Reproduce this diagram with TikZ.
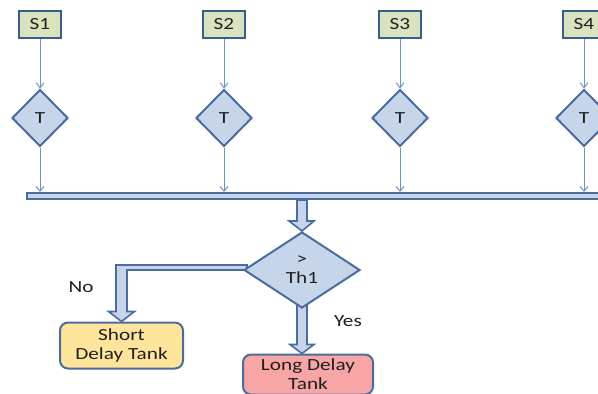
\documentclass[tikz,border=0pt]{standalone}
\usepackage{fontspec}
\setmainfont{Carlito}[FakeStretch=1.25]
\usetikzlibrary{shapes.geometric,arrows.meta,calc,backgrounds}
\definecolor{sfill}{HTML}{D7E4BD}
\definecolor{sborder}{HTML}{3A5E8C}
\definecolor{dfill}{HTML}{C6D5EA}
\definecolor{dborder}{HTML}{4A6D9E}
\definecolor{arrowc}{HTML}{6A93C8}
\definecolor{shortc}{HTML}{FFE59C}
\definecolor{longc}{HTML}{F8A5A5}
\definecolor{txt}{HTML}{1F1F1F}
\begin{document}
\begin{tikzpicture}[x=1pt,y=-1pt,
  font=\fontsize{17}{19}\selectfont, text=txt,
  sbox/.style={draw=sborder, line width=2pt, fill=sfill, minimum width=42pt, minimum height=27pt, inner sep=0pt},
  tdia/.style={diamond, draw=dborder, line width=2pt, fill=dfill, minimum width=56pt, minimum height=57pt, inner sep=0pt},
  decdia/.style={diamond, draw=dborder, line width=2pt, fill=dfill, minimum width=116pt, minimum height=76pt, inner sep=0pt, align=center},
  thinarrow/.style={draw=arrowc, line width=1pt, -{Straight Barb[length=5pt,width=8pt]}},
  block/.style={draw=dborder, line width=1.6pt, fill=dfill, line join=miter},
  barbox/.style={draw=dborder, line width=2pt, fill=dfill, minimum width=575pt, minimum height=6pt, inner sep=0pt},
  tank/.style={rounded corners=8pt, draw=dborder, line width=2pt, align=center, inner sep=0pt},
  lbl/.style={inner sep=0pt}]
\useasboundingbox (0,0) rectangle (598,394);
\clip (0,0) rectangle (598,394);

\node[barbox] (bar) at (314.5,196) {};
\foreach \i/\x in {1/40,2/224,3/400,4/584} {
  \node[sbox] (s\i) at (\x,24.5) {S\i};
  \node[tdia] (t\i) at (\x,118) {T};
  \draw[thinarrow] (s\i) -- (t\i);
  \draw[thinarrow] (t\i) -- (t\i |- bar.north);
}

\node[decdia] (dec) at (302,270) {>\\Th1};
\node[tank, fill=shortc, minimum width=123pt, minimum height=46pt] (short) at (121.5,345.5) {Short\\Delay Tank};
\node[tank, fill=longc, minimum width=130pt, minimum height=40pt] (long) at (308,374.5) {Long Delay\\Tank};

\node[lbl] (no) at (81,287) {No};
\node[lbl] (yes) at (348,321) {Yes};

\begin{scope}[on background layer]
  % down arrow from bar to decision
  \coordinate (dtop) at (bar.south -| dec.north);
  \draw[block] ($(dtop)+(-5,0)$) -- ($(dec.north)+(-5,-10)$) -- ($(dec.north)+(-13,-10)$)
    -- (dec.north) -- ($(dec.north)+(12,-10)$) -- ($(dec.north)+(5,-10)$)
    -- ($(dtop)+(5,0)$) -- cycle;
  % No arrow
  \coordinate (nA) at ($(dec.west)+(4,-5)$);
  \coordinate (nB) at ($(dec.west)+(4,0)$);
  \coordinate (nL) at ($(short.north)+(-5.5,-10)$);
  \coordinate (nR) at ($(short.north)+(5.5,-10)$);
  \draw[block] (nA) -- (nA -| nL) -- (nL) -- ++(-7.5,0) -- (short.north)
    -- ($(nR)+(7.5,0)$) -- (nR) -- (nR |- nB) -- (nB) -- cycle;
  % Yes arrow
  \coordinate (ytip) at (dec.south |- long.north);
  \coordinate (yL) at ($(ytip)+(-5,-9)$);
  \coordinate (yR) at ($(ytip)+(5,-9)$);
  \draw[block] ($(dec.south)+(-5,-4)$) -- (yL) -- ++(-7,0) -- (ytip)
    -- ($(yR)+(7,0)$) -- (yR) -- ($(dec.south)+(5,-4)$) -- cycle;
\end{scope}
\end{tikzpicture}
\end{document}
